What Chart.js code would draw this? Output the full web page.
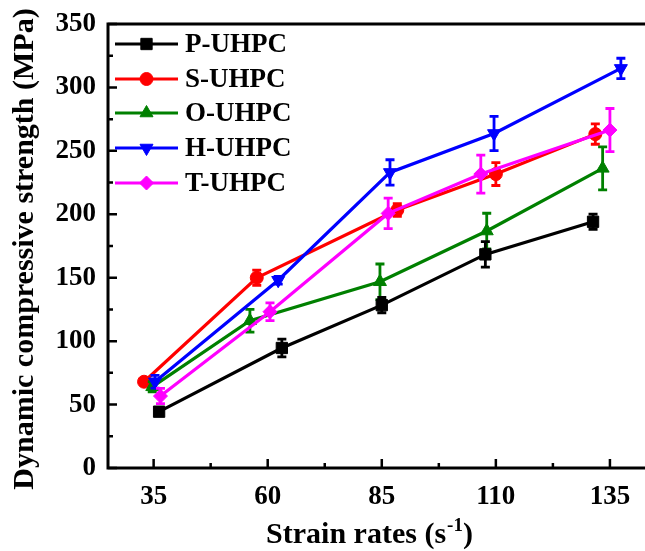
<!DOCTYPE html>
<html>
<head>
<meta charset="utf-8">
<script src="https://cdn.jsdelivr.net/npm/chart.js@4.4.1/dist/chart.umd.min.js"></script>
<style>
  html, body { margin: 0; padding: 0; background: #fff; overflow: hidden; }
  #wrap { width: 660px; height: 551px; }
</style>
</head>
<body>
<div id="wrap"><canvas id="strengthChart" width="660" height="551"></canvas></div>
<script>
// Data
const seriesNames = ["P-UHPC", "S-UHPC", "O-UHPC", "H-UHPC", "T-UHPC"];
const xTicks = [35, 60, 85, 110, 135];
const yTicks = [0, 50, 100, 150, 200, 250, 300, 350];

const pX = [36.2, 63.1, 85.0, 107.7, 131.3];
const pY = [44.4, 94.6, 128.4, 168.4, 194.1];
const pErr = [3, 7, 6, 10, 6];

const sX = [32.9, 57.6, 88.4, 110.0, 131.8];
const sY = [68.0, 150.0, 203.3, 231.7, 263.2];
const sErr = [2, 6, 5, 9, 8];

const oX = [34.7, 56.1, 84.6, 108.0, 133.4];
const oY = [64.0, 116.1, 146.8, 186.8, 236.2];
const oErr = [4, 9, 14, 14, 17];

const hX = [35.3, 62.3, 86.8, 109.6, 137.4];
const hY = [68.0, 148.0, 233.0, 263.7, 315.0];
const hErr = [5, 3, 10, 13.5, 8];

const tX = [36.5, 60.5, 86.4, 106.7, 135.0];
const tY = [56.7, 123.2, 200.7, 231.7, 266.4];
const tErr = [6, 7, 12, 15, 17];

const FONT = "'Liberation Serif', 'Times New Roman', serif";

// marker radius per chart.js point style
const markerSize = { rect: 8, circle: 6.5, triangle: 7.5, rectRot: 7 };

function toPoints(xs, ys) {
  return xs.map((x, i) => ({ x: x, y: ys[i] }));
}

function makeSet(label, xs, ys, errs, color, style, rotation, order) {
  return {
    label: label,
    data: toPoints(xs, ys),
    errors: errs,
    borderColor: color,
    backgroundColor: color,
    borderWidth: 3.2,
    pointStyle: style,
    pointRotation: rotation,
    pointRadius: markerSize[style],
    pointBorderWidth: 1,
    tension: 0,
    fill: false,
    order: order,
    clip: false,
  };
}

// Error bars, drawn per dataset through the chart scales
const errorBarPlugin = {
  id: "errorBars",
  afterDatasetDraw(chart, args) {
    const ds = chart.data.datasets[args.index];
    const { ctx, scales: { x, y } } = chart;
    ctx.save();
    ctx.strokeStyle = ds.borderColor;
    ctx.lineWidth = 2.8;
    ds.data.forEach((p, i) => {
      const e = ds.errors[i];
      const px = x.getPixelForValue(p.x);
      const top = y.getPixelForValue(p.y + e);
      const bot = y.getPixelForValue(p.y - e);
      ctx.beginPath();
      ctx.moveTo(px, top); ctx.lineTo(px, bot);
      ctx.moveTo(px - 4.5, top); ctx.lineTo(px + 4.5, top);
      ctx.moveTo(px - 4.5, bot); ctx.lineTo(px + 4.5, bot);
      ctx.stroke();
    });
    ctx.restore();
  },
};

// Frame, inward ticks, axis titles and the legend
const framePlugin = {
  id: "frame",
  afterDraw(chart) {
    const { ctx, chartArea: a, scales: { x, y } } = chart;
    ctx.save();
    ctx.strokeStyle = "#000";
    ctx.lineWidth = 3;
    ctx.strokeRect(a.left, a.top, a.right - a.left, a.bottom - a.top);

    ctx.lineWidth = 2.5;
    ctx.beginPath();
    for (let v = 0; v <= 350; v += 25) {
      const py = y.getPixelForValue(v);
      const len = v % 50 === 0 ? 9 : 5;
      ctx.moveTo(a.left, py); ctx.lineTo(a.left + len, py);
    }
    for (let v = 35; v <= 140; v += 12.5) {
      const px = x.getPixelForValue(v);
      const len = (v - 35) % 25 === 0 ? 9 : 5;
      ctx.moveTo(px, a.bottom); ctx.lineTo(px, a.bottom - len);
    }
    ctx.stroke();

    // axis titles
    ctx.fillStyle = "#000";
    ctx.textBaseline = "alphabetic";
    const main = "Strain rates (s";
    const sup = "-1";
    const close = ")";
    ctx.font = "bold 30px " + FONT;
    const w1 = ctx.measureText(main).width;
    const w3 = ctx.measureText(close).width;
    ctx.font = "bold 19px " + FONT;
    const w2 = ctx.measureText(sup).width;
    const total = w1 + w2 + w3;
    const sx = 369 - total / 2;
    const by = 543;
    ctx.textAlign = "left";
    ctx.font = "bold 30px " + FONT;
    ctx.fillText(main, sx, by);
    ctx.font = "bold 19px " + FONT;
    ctx.fillText(sup, sx + w1 + 1, by - 12);
    ctx.font = "bold 30px " + FONT;
    ctx.fillText(close, sx + w1 + w2 + 1, by);

    ctx.save();
    ctx.translate(33, 249);
    ctx.rotate(-Math.PI / 2);
    ctx.textAlign = "center";
    ctx.font = "bold 30px " + FONT;
    ctx.fillText("Dynamic compressive strength (MPa)", 0, 0);
    ctx.restore();

    // legend
    const rowY = [44, 79, 113, 148, 183];
    chart.data.datasets.forEach((ds, i) => {
      const ly = rowY[i];
      ctx.strokeStyle = ds.borderColor;
      ctx.fillStyle = ds.backgroundColor;
      ctx.lineWidth = 3.2;
      ctx.beginPath();
      ctx.moveTo(115, ly); ctx.lineTo(178, ly);
      ctx.stroke();
      ctx.lineWidth = 1;
      Chart.helpers.drawPoint(ctx, {
        pointStyle: ds.pointStyle,
        rotation: ds.pointRotation,
        radius: ds.pointRadius,
        borderWidth: 1,
      }, 146.5, ly);
      ctx.fillStyle = "#000";
      ctx.font = "bold 27px " + FONT;
      ctx.textAlign = "left";
      ctx.textBaseline = "middle";
      ctx.fillText(ds.label, 185, ly + 1);
    });
    ctx.restore();
  },
};

function initStrengthChart() {
  const canvas = document.getElementById("strengthChart");
  return new Chart(canvas.getContext("2d"), {
    type: "line",
    data: {
      datasets: [
        makeSet(seriesNames[0], pX, pY, pErr, "#000000", "rect", 0, 2),
        makeSet(seriesNames[1], sX, sY, sErr, "#FF0000", "circle", 0, 5),
        makeSet(seriesNames[2], oX, oY, oErr, "#008000", "triangle", 0, 4),
        makeSet(seriesNames[3], hX, hY, hErr, "#0000FF", "triangle", 180, 3),
        makeSet(seriesNames[4], tX, tY, tErr, "#FF00FF", "rectRot", 0, 1),
      ],
    },
    options: {
      responsive: false,
      animation: false,
      layout: { padding: { top: 24, right: 8, left: 0, bottom: 0 } },
      plugins: {
        legend: { display: false },
        tooltip: { enabled: false },
      },
      scales: {
        x: {
          type: "linear",
          min: 25,
          max: 144,
          afterBuildTicks: (scale) => {
            scale.ticks = xTicks.map((v) => ({ value: v }));
          },
          afterFit: (scale) => { scale.height = 83; },
          grid: { display: false, drawTicks: false },
          border: { display: false },
          ticks: {
            color: "#000",
            padding: 13,
            maxRotation: 0,
            font: { family: FONT, size: 27, weight: "bold" },
          },
        },
        y: {
          type: "linear",
          min: 0,
          max: 350,
          afterBuildTicks: (scale) => {
            scale.ticks = yTicks.map((v) => ({ value: v }));
          },
          afterFit: (scale) => {
            scale.width = 108;
            scale.paddingTop = 0;
            scale.paddingBottom = 0;
          },
          grid: { display: false, drawTicks: false },
          border: { display: false },
          ticks: {
            color: "#000",
            padding: 12,
            font: { family: FONT, size: 27, weight: "bold", lineHeight: 0.9 },
          },
        },
      },
    },
    plugins: [errorBarPlugin, framePlugin],
  });
}

document.addEventListener("DOMContentLoaded", initStrengthChart);
</script>
</body>
</html>
